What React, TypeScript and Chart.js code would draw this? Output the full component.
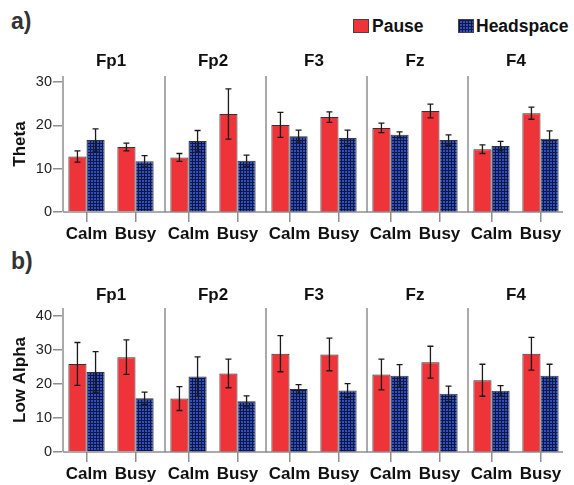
import React, { useEffect, useRef } from 'react';
import { Chart, registerables } from 'chart.js';
Chart.register(...registerables);

// ---------- data ----------
const CHANNELS = ['Fp1', 'Fp2', 'F3', 'Fz', 'F4'];
const CONDITIONS = ['Calm', 'Busy'];
const SERIES = ['Pause', 'Headspace'];
const ROW_TAGS = ['a)', 'b)'];
const ROW_TITLES = ['Theta', 'Low Alpha'];
const THETA_TICKS = [0, 10, 20, 30];
const ALPHA_TICKS = [0, 10, 20, 30, 40];

const thetaPause = [[12.8, 15.0], [12.6, 22.6], [20.1, 21.9], [19.4, 23.3], [14.5, 22.8]];
const thetaPauseErr = [[1.3, 0.9], [0.9, 5.8], [2.9, 1.2], [1.1, 1.6], [1.0, 1.4]];
const thetaHead = [[16.6, 11.7], [16.4, 11.8], [17.5, 17.1], [17.8, 16.6], [15.2, 16.9]];
const thetaHeadErr = [[2.6, 1.3], [2.4, 1.3], [1.4, 1.8], [0.7, 1.2], [1.1, 1.8]];

const alphaPause = [[25.9, 27.9], [15.7, 23.1], [28.9, 28.7], [22.8, 26.4], [21.1, 28.9]];
const alphaPauseErr = [[6.3, 5.1], [3.5, 4.2], [5.3, 4.8], [4.5, 4.7], [4.7, 4.8]];
const alphaHead = [[23.5, 15.8], [22.2, 14.9], [18.5, 18.1], [22.4, 17.1], [18.0, 22.4]];
const alphaHeadErr = [[6.0, 1.8], [5.8, 1.6], [1.3, 2.0], [3.3, 2.3], [1.5, 3.4]];

// ---------- layout / style ----------
const FONT = '"Liberation Sans", Arial, Helvetica, sans-serif';
const RED = '#ee3339';
const BLUE_BG = '#3150bd';
const BLUE_LINE = '#0f1746';
const AXIS = '#8e8e8e';
const TEXT = '#111';
const SEPS = [63, 165, 266, 367, 468];
const END = 562;
const PLOT_W = 98;
const X_AXIS_H = 35;

const ROWS = [
  {
    ticks: THETA_TICKS, max: 31.38, canvasTop: 50, chartBottom: 212,
    titlePad: { top: 1.5, bottom: 4.1 },
    pause: thetaPause, pauseErr: thetaPauseErr, head: thetaHead, headErr: thetaHeadErr,
    tagTop: 10,
  },
  {
    ticks: ALPHA_TICKS, max: 42.35, canvasTop: 282, chartBottom: 452,
    titlePad: { top: 2.8, bottom: 2.8 },
    pause: alphaPause, pauseErr: alphaPauseErr, head: alphaHead, headErr: alphaHeadErr,
    tagTop: 250,
  },
];

function geom(p: number) {
  const sep = SEPS[p];
  const next = p < SEPS.length - 1 ? SEPS[p + 1] : END;
  const chartLeft = sep - 1;
  const canvasLeft = p === 0 ? 0 : chartLeft - 2;
  const canvasRight = Math.max(next, chartLeft + PLOT_W) + 3;
  const padLeft = p === 0 ? 0 : 2;
  const padRight = canvasRight - (chartLeft + PLOT_W);
  return { sep, next, chartLeft, canvasLeft, canvasRight, padLeft, padRight, width: canvasRight - canvasLeft };
}

function makePattern(): CanvasPattern | string {
  const c = document.createElement('canvas');
  c.width = 3; c.height = 3;
  const g = c.getContext('2d');
  if (!g) return BLUE_BG;
  g.fillStyle = BLUE_BG; g.fillRect(0, 0, 3, 3);
  g.fillStyle = BLUE_LINE; g.fillRect(0, 0, 3, 1); g.fillRect(0, 0, 1, 3);
  return g.createPattern(c, 'repeat') || BLUE_BG;
}

export default function App() {
  const refs = useRef<(HTMLCanvasElement | null)[]>([]);

  useEffect(() => {
    const pattern = makePattern();
    const charts: Chart[] = [];
    ROWS.forEach((row, r) => {
      CHANNELS.forEach((ch, p) => {
        const canvas = refs.current[r * CHANNELS.length + p];
        if (!canvas) return;
        const g = geom(p);
        const errs = [row.pauseErr[p], row.headErr[p]];
        const baseEnd = g.next + 1 - g.canvasLeft;
        const framePlugin = {
          id: 'frame' + r + p,
          afterDatasetsDraw(chart: any) {
            const { ctx, chartArea, scales } = chart;
            ctx.save();
            // error bars
            chart.data.datasets.forEach((ds: any, di: number) => {
              const meta = chart.getDatasetMeta(di);
              meta.data.forEach((bar: any, i: number) => {
                const m = ds.data[i];
                const e = errs[di][i];
                const yT = scales.y.getPixelForValue(m + e);
                const yB = scales.y.getPixelForValue(m - e);
                ctx.strokeStyle = '#1a1a1a';
                ctx.lineWidth = 1.3;
                ctx.beginPath();
                ctx.moveTo(bar.x, yT); ctx.lineTo(bar.x, yB);
                ctx.moveTo(bar.x - 3, yT); ctx.lineTo(bar.x + 3, yT);
                ctx.moveTo(bar.x - 3, yB); ctx.lineTo(bar.x + 3, yB);
                ctx.stroke();
              });
            });
            // frame
            ctx.strokeStyle = AXIS;
            ctx.lineWidth = 1.5;
            ctx.beginPath();
            ctx.moveTo(chartArea.left + 1, chartArea.top);
            ctx.lineTo(chartArea.left + 1, chartArea.bottom);
            ctx.moveTo(chartArea.left + 1, chartArea.bottom);
            ctx.lineTo(baseEnd, chartArea.bottom);
            ctx.stroke();
            ctx.restore();
          },
        };
        const chart = new Chart(canvas, {
          type: 'bar',
          data: {
            labels: CONDITIONS,
            datasets: [
              {
                label: SERIES[0], data: row.pause[p], backgroundColor: RED,
                borderColor: '#333', borderWidth: 1, categoryPercentage: 0.74, barPercentage: 1,
              },
              {
                label: SERIES[1], data: row.head[p], backgroundColor: pattern as any,
                borderColor: '#333', borderWidth: 1, categoryPercentage: 0.74, barPercentage: 1,
              },
            ],
          },
          options: {
            responsive: false,
            animation: false,
            devicePixelRatio: 1,
            layout: { padding: { left: g.padLeft, right: g.padRight, top: 0, bottom: 0 } },
            plugins: {
              legend: { display: false },
              tooltip: { enabled: false },
              title: {
                display: true, text: ch, color: TEXT, fullSize: false,
                font: { family: FONT, size: 17, weight: 'bold', lineHeight: 1.2 },
                padding: row.titlePad,
              },
            },
            scales: {
              x: {
                grid: {
                  display: true, drawOnChartArea: false, drawTicks: true, tickLength: 10,
                  offset: false, color: AXIS, lineWidth: 1.5,
                },
                border: { display: false },
                ticks: {
                  color: TEXT, padding: 2.3, maxRotation: 0, autoSkip: false,
                  font: { family: FONT, size: 17, weight: 'bold', lineHeight: 1.2 },
                },
                afterFit: (s: any) => { s.height = X_AXIS_H; s.paddingLeft = 0; s.paddingRight = 0; },
              },
              y: {
                display: p === 0,
                min: 0,
                max: row.max,
                afterBuildTicks: (s: any) => { s.ticks = row.ticks.map((v) => ({ value: v })); },
                grid: {
                  display: true, drawOnChartArea: false, drawTicks: true, tickLength: 9,
                  color: AXIS, lineWidth: 1.5,
                },
                border: { display: false },
                ticks: {
                  color: '#222', padding: 1,
                  font: { family: FONT, size: 14.5 },
                },
                title: {
                  display: true, text: ROW_TITLES[r], color: TEXT,
                  font: { family: FONT, size: 17, weight: 'bold', lineHeight: 1.2 },
                  padding: { top: 10, bottom: 0 },
                },
                afterFit: (s: any) => {
                  if (p === 0) s.width = g.chartLeft;
                  else s.width = 0;
                  s.paddingTop = 0; s.paddingBottom = 0;
                },
              },
            },
          } as any,
          plugins: [framePlugin],
        });
        charts.push(chart);
      });
    });
    return () => charts.forEach((c) => c.destroy());
  }, []);

  const canvases: React.ReactNode[] = [];
  ROWS.forEach((row, r) => {
    CHANNELS.forEach((ch, p) => {
      const g = geom(p);
      const h = row.chartBottom - row.canvasTop + X_AXIS_H;
      const idx = r * CHANNELS.length + p;
      canvases.push(
        <canvas
          key={idx}
          ref={(el) => { refs.current[idx] = el; }}
          width={g.width}
          height={h}
          style={{ position: 'absolute', left: g.canvasLeft, top: row.canvasTop, width: g.width, height: h }}
        />
      );
    });
  });

  const txt: React.CSSProperties = { position: 'absolute', fontFamily: FONT, fontWeight: 'bold', lineHeight: 1, whiteSpace: 'nowrap' };

  return (
    <div style={{ position: 'fixed', left: 0, top: 0, width: 574, height: 485, overflow: 'hidden', background: '#fff' }}>
      {ROWS.map((row, r) => (
        <div key={'tag' + r} style={{ ...txt, left: 11, top: row.tagTop, fontSize: 23, color: '#333' }}>{ROW_TAGS[r]}</div>
      ))}
      <div style={{ position: 'absolute', left: 353, top: 19, width: 14, height: 12, background: RED, border: '1px solid #444' }} />
      <div style={{ ...txt, left: 372, top: 18, fontSize: 17.5, color: TEXT }}>{SERIES[0]}</div>
      <div
        style={{
          position: 'absolute', left: 458, top: 19, width: 14, height: 12, backgroundColor: BLUE_BG,
          backgroundImage: `linear-gradient(${BLUE_LINE} 1px, transparent 1px), linear-gradient(90deg, ${BLUE_LINE} 1px, transparent 1px)`,
          backgroundSize: '3px 3px', border: '1px solid #444',
        }}
      />
      <div style={{ ...txt, left: 476, top: 18, fontSize: 17.5, color: TEXT }}>{SERIES[1]}</div>
      {canvases}
    </div>
  );
}
